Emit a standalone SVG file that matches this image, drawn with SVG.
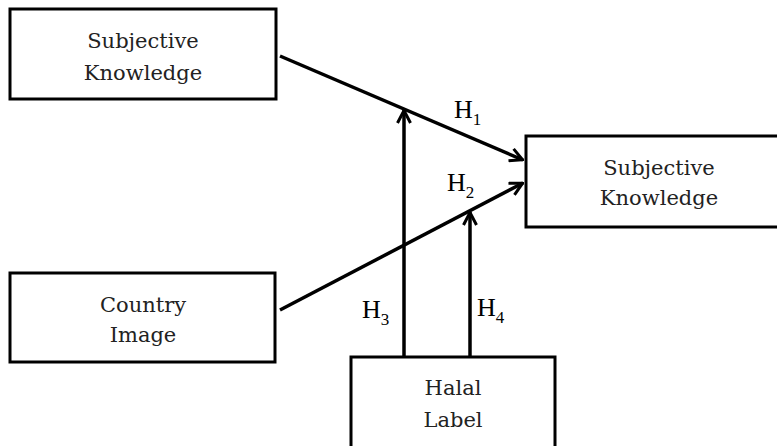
<svg xmlns="http://www.w3.org/2000/svg" width="777" height="446" viewBox="0 0 777 446">
<defs>
<style>
.box{fill:#fff;stroke:#000;stroke-width:3}
.t{font-family:"DejaVu Serif","Liberation Serif",serif;font-size:21px;fill:#222;text-anchor:middle}
.h{font-family:"Liberation Serif","DejaVu Serif",serif;font-size:26px;fill:#000}
.s{font-size:17px}
.c{stroke:#000;stroke-width:3.5;fill:none}
</style>
<marker id="arr" viewBox="0 0 16 16" refX="15" refY="8" markerWidth="16" markerHeight="16" markerUnits="userSpaceOnUse" orient="auto">
<path d="M2,1.5 L14.5,8 L2,14.5" fill="none" stroke="#000" stroke-width="3"/>
</marker>
</defs>
<rect width="777" height="446" fill="#fff"/>
<g id="connectors">
<line class="c" x1="280" y1="56" x2="523" y2="160" marker-end="url(#arr)"/>
<line class="c" x1="280" y1="310" x2="523" y2="183" marker-end="url(#arr)"/>
<line class="c" x1="404" y1="357" x2="404" y2="110" marker-end="url(#arr)"/>
<line class="c" x1="470" y1="357" x2="470" y2="212" marker-end="url(#arr)"/>
</g>
<g id="subjective-knowledge-1">
<rect class="box" x="10" y="9" width="266" height="90"/>
<text class="t" x="143" y="48">Subjective</text>
<text class="t" x="143" y="80">Knowledge</text>
</g>
<g id="country-image">
<rect class="box" x="10" y="273" width="265" height="89"/>
<text class="t" x="143" y="312">Country</text>
<text class="t" x="143" y="342">Image</text>
</g>
<g id="subjective-knowledge-2">
<rect class="box" x="526" y="136" width="270" height="91"/>
<text class="t" x="659" y="175">Subjective</text>
<text class="t" x="659" y="205">Knowledge</text>
</g>
<g id="halal-label">
<rect class="box" x="351" y="357" width="204" height="100"/>
<text class="t" x="453" y="395">Halal</text>
<text class="t" x="453" y="427">Label</text>
</g>
<g id="labels">
<text class="h" x="454" y="118">H<tspan class="s" dy="7">1</tspan></text>
<text class="h" x="447" y="191">H<tspan class="s" dy="7">2</tspan></text>
<text class="h" x="362" y="318">H<tspan class="s" dy="7">3</tspan></text>
<text class="h" x="477" y="316">H<tspan class="s" dy="7">4</tspan></text>
</g>
</svg>
